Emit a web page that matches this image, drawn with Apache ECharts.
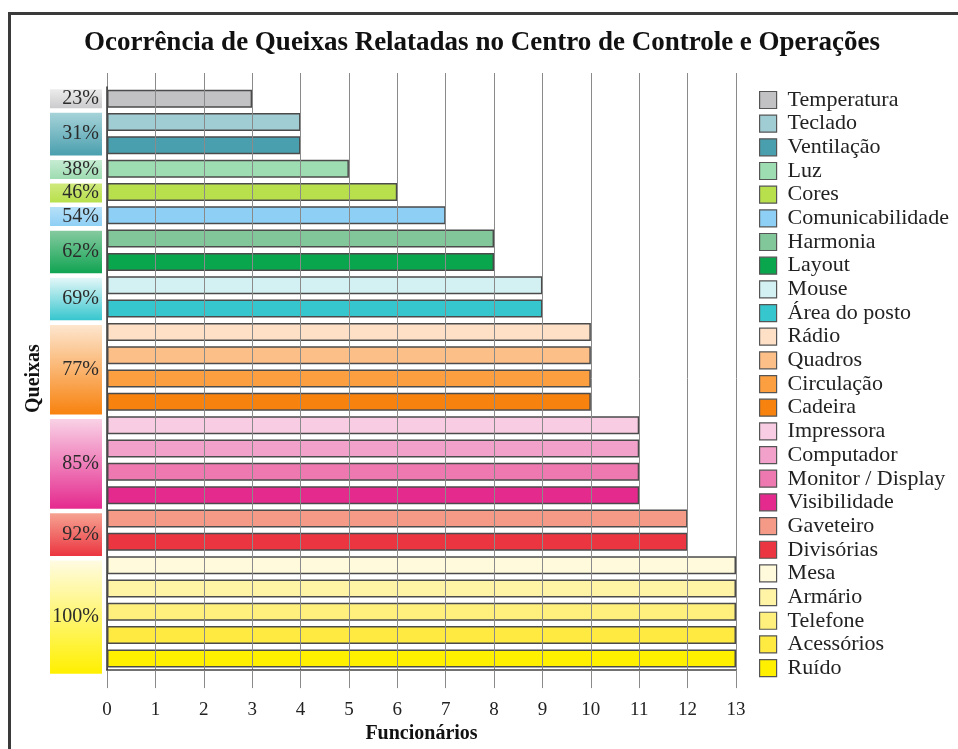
<!DOCTYPE html>
<html>
<head>
<meta charset="utf-8">
<title>Ocorrência de Queixas</title>
<script src="https://cdn.jsdelivr.net/npm/echarts@6/dist/echarts.min.js"></script>
<style>
  html, body { margin: 0; padding: 0; background: #fff; }
  #chart { width: 958px; height: 749px; }
</style>
</head>
<body>
<div id="chart"></div>
<script>
// dados
const categories = ['Temperatura', 'Teclado', 'Ventilação', 'Luz', 'Cores', 'Comunicabilidade',
  'Harmonia', 'Layout', 'Mouse', 'Área do posto', 'Rádio', 'Quadros', 'Circulação', 'Cadeira',
  'Impressora', 'Computador', 'Monitor / Display', 'Visibilidade', 'Gaveteiro', 'Divisórias',
  'Mesa', 'Armário', 'Telefone', 'Acessórios', 'Ruído'];
const values = [3, 4, 4, 5, 6, 7, 8, 8, 9, 9, 10, 10, 10, 10, 11, 11, 11, 11, 12, 12, 13, 13, 13, 13, 13];
const groupLabels = ['23%', '31%', '38%', '46%', '54%', '62%', '69%', '77%', '85%', '92%', '100%'];
const groupSizes = [1, 2, 1, 1, 1, 2, 2, 4, 4, 2, 5];

// cores
const barColors = ['#c2c2c4', '#a0cdd3', '#4a9fae', '#9edcb2', '#b8e04c', '#8ecff5',
  '#82c79a', '#0aa64e', '#d3f0f2', '#36c6ce', '#fde0c6', '#fdbf88', '#fb9f40', '#f8820e',
  '#f8cce2', '#f2a2ca', '#ee78b0', '#e52a8e', '#f59a86', '#eb3540',
  '#fffadc', '#fff4a6', '#fff07e', '#ffea42', '#fff000'];
const groupColors = [
  ['#ececec', '#cbcbcd'], ['#a6d3d9', '#4a9fae'], ['#c6ecd2', '#9edcb2'], ['#cfe97c', '#b8e04c'],
  ['#b6e0f8', '#8ecff5'], ['#86caa0', '#10a452'], ['#e4f7f8', '#36c6ce'], ['#fde6cf', '#f8820e'],
  ['#f9d2e6', '#e52a8e'], ['#f6a392', '#eb3540'], ['#fffbe2', '#fff000']
];

const font = 'Liberation Serif';

const groups = [];
let start = 0;
groupSizes.forEach(function (n) {
  groups.push([start, start + n - 1]);
  start += n;
});

const chart = echarts.init(document.getElementById('chart'));

const barSeries = categories.map(function (name, i) {
  return {
    name: name,
    type: 'bar',
    stack: 'all',
    barWidth: 18,
    xAxisIndex: 0,
    yAxisIndex: 0,
    itemStyle: { color: barColors[i], borderColor: '#4b4b4b', borderWidth: 1.5 },
    data: values.map(function (v, j) { return j === i ? v : '-'; })
  };
});

const option = {
  backgroundColor: '#fff',
  animation: false,
  title: {
    text: 'Ocorrência de Queixas Relatadas no Centro de Controle e Operações',
    left: 477,
    textAlign: 'center',
    top: 25,
    textStyle: { fontFamily: font, fontSize: 27, fontWeight: 'bold', color: '#111' }
  },
  graphic: [{
    type: 'rect',
    shape: { x: 9.5, y: 13.5, width: 960, height: 760 },
    style: { fill: null, stroke: '#3a3a3a', lineWidth: 3 },
    silent: true
  }],
  legend: {
    orient: 'vertical',
    left: 754,
    top: 84,
    icon: 'rect',
    itemWidth: 17,
    itemHeight: 17,
    itemGap: 1.67,
    itemStyle: { borderColor: '#555', borderWidth: 1.2 },
    textStyle: { fontFamily: font, fontSize: 22, color: '#222', lineHeight: 22, padding: [0, 0, 0, 6] },
    data: categories
  },
  grid: [
    { left: 107, right: 222, top: 87, bottom: 73 },
    { left: 50, width: 52, top: 87, bottom: 73 }
  ],
  xAxis: [{
    type: 'value',
    gridIndex: 0,
    min: 0,
    max: 13,
    interval: 1,
    z: 5,
    name: 'Funcionários',
    nameLocation: 'middle',
    nameGap: 50,
    nameTextStyle: { fontFamily: font, fontSize: 20, fontWeight: 'bold', color: '#111' },
    axisLine: { show: true, lineStyle: { color: '#444', width: 1.5 } },
    axisTick: { show: true, inside: false, length: 18, lineStyle: { color: '#8a8a8a' } },
    axisLabel: { margin: 30, fontFamily: font, fontSize: 19, color: '#222' },
    splitLine: { show: true, lineStyle: { color: '#8a8a8a', width: 1 } }
  }, {
    type: 'value',
    gridIndex: 0,
    position: 'top',
    min: 0,
    max: 13,
    interval: 1,
    z: 5,
    axisLine: { show: false },
    axisTick: { show: true, inside: false, length: 14, lineStyle: { color: '#8a8a8a' } },
    axisLabel: { show: false },
    splitLine: { show: false }
  }, {
    type: 'value',
    gridIndex: 1,
    min: 0,
    max: 1,
    show: false
  }],
  yAxis: [{
    type: 'category',
    gridIndex: 0,
    inverse: true,
    data: categories,
    z: 6,
    name: 'Queixas',
    nameLocation: 'middle',
    nameGap: 63,
    nameRotate: 90,
    nameTextStyle: { fontFamily: font, fontSize: 20, fontWeight: 'bold', color: '#111' },
    axisLine: { show: true, lineStyle: { color: '#333', width: 1.5 } },
    axisTick: { show: false },
    axisLabel: { show: false },
    splitLine: { show: false }
  }, {
    type: 'category',
    gridIndex: 1,
    inverse: true,
    data: categories,
    show: false
  }],
  series: barSeries.concat([{
    type: 'custom',
    name: 'grupos',
    xAxisIndex: 2,
    yAxisIndex: 1,
    clip: false,
    silent: true,
    data: groups,
    renderItem: function (params, api) {
      const s = api.value(0);
      const e = api.value(1);
      const pTop = api.coord([0, s]);
      const pBot = api.coord([1, e]);
      const x0 = pTop[0];
      const x1 = pBot[0];
      const y0 = pTop[1] - 9.5;
      const y1 = pBot[1] + 9.5;
      const c = groupColors[params.dataIndex];
      return {
        type: 'group',
        children: [{
          type: 'rect',
          shape: { x: x0, y: y0, width: x1 - x0, height: y1 - y0 },
          style: {
            fill: new echarts.graphic.LinearGradient(0, 0, 0, 1, [
              { offset: 0, color: c[0] }, { offset: 1, color: c[1] }
            ])
          }
        }, {
          type: 'text',
          style: {
            text: groupLabels[params.dataIndex],
            x: x1 - 3,
            y: (y0 + y1) / 2,
            align: 'right',
            verticalAlign: 'middle',
            fontFamily: font,
            fontSize: 20,
            fill: '#2b2b2b'
          }
        }]
      };
    }
  }])
};

chart.setOption(option);
</script>
</body>
</html>
